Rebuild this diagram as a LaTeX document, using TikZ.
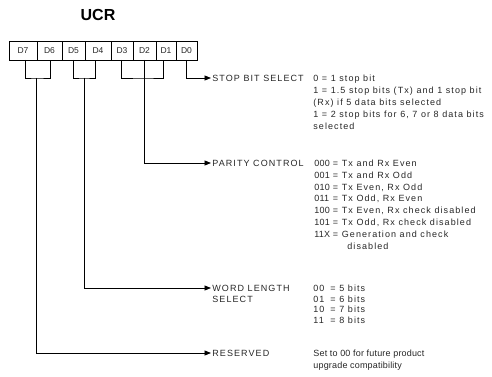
\documentclass[tikz,border=0pt]{standalone}
\usepackage{fontspec}
\setmainfont{Liberation Sans}
\newfontfamily\lblfont[LetterSpace=12]{Liberation Sans}
\newfontfamily\descfont[LetterSpace=12]{Liberation Sans}
\newfontfamily\resfont[LetterSpace=2]{Liberation Sans}
\usetikzlibrary{arrows.meta}
\newcommand\myrow[3]{\makebox[18.5pt][l]{\resfont #1}\makebox[9pt][l]{#2}#3}
\newcommand\mywl[3]{\makebox[17pt][l]{#1}\makebox[9pt][l]{#2}#3}
\begin{document}
\begin{tikzpicture}[x=1pt,y=-1pt,line width=0.8pt,
  cell/.style={draw,minimum height=19pt,inner sep=0pt,outer sep=0pt,
    text=black!85,font=\fontsize{8.5}{10}\selectfont},
  lbl/.style={anchor=west,inner sep=1pt,text=black!85,
    font=\lblfont\fontsize{9}{12}\selectfont},
  desc/.style={anchor=base west,inner sep=0pt,text=black!85,
    font=\descfont\fontsize{9}{12}\selectfont},
  arr/.style={-{Triangle[length=6.5pt,width=5pt]}}]
\useasboundingbox (0,0) rectangle (492,377);
% title
\node[font=\bfseries\fontsize{16}{16}\selectfont] (title) at (98,15) {UCR};
% register cells
\node[cell,minimum width=28pt] (d7) at (23,50.5) {D7};
\node[cell,minimum width=25pt] (d6) at (49.5,50.5) {D6};
\node[cell,minimum width=23pt] (d5) at (73.5,50.5) {D5};
\node[cell,minimum width=26pt] (d4) at (98,50.5) {D4};
\node[cell,minimum width=22pt] (d3) at (122,50.5) {D3};
\node[cell,minimum width=23pt] (d2) at (144.5,50.5) {D2};
\node[cell,minimum width=20pt] (d1) at (166,50.5) {D1};
\node[cell,minimum width=21pt] (d0) at (186.5,50.5) {D0};
% feet of the brackets
\coordinate (f7) at ([xshift=2.7pt]d7.south);
\coordinate (f6) at ([xshift=1.2pt]d6.south);
\coordinate (f5) at ([xshift=-0.2pt]d5.south);
\coordinate (f4) at ([xshift=-2.3pt]d4.south);
\coordinate (f3) at ([xshift=-0.3pt]d3.south);
\coordinate (f2) at ([xshift=-0.5pt]d2.south);
\coordinate (f1) at ([xshift=-3pt]d1.south);
\coordinate (f0) at ([xshift=-0.5pt]d0.south);
\coordinate (j76) at (36.7,78);
\coordinate (j54) at (84,78);
\coordinate (j2) at (144,78);
% labels
\node[lbl] (stop) at (211,78) {STOP BIT SELECT};
\node[lbl] (par) at (211,163) {PARITY CONTROL};
\node[lbl] (word) at (211,288) {WORD LENGTH};
\node[lbl] (wordb) at (211,299) {SELECT};
\node[lbl] (resv) at (211,353) {RESERVED};
% connectors
\draw (f7) |- (j76) -| (f6);
\draw (f5) |- (j54) -| (f4);
\draw (f3) |- (j2) -| (f1);
\draw[arr] (f0) |- (stop.west);
\draw[arr] (f2) |- (par.west);
\draw[arr] (j54) |- (word.west);
\draw[arr] (j76) |- (resv.west);
% descriptions
\node[desc] (stopd) at (313,81.2) {\begin{tabular}[t]{@{}l@{}}
0 = 1 stop bit\\
1 = 1.5 stop bits (Tx) and 1 stop bit\\
(Rx) if 5 data bits selected\\
1 = 2 stop bits for 6, 7 or 8 data bits\\
selected\end{tabular}};
\node[desc,font=\descfont\fontsize{9}{11.9}\selectfont] (pard) at (314,166.2) {\begin{tabular}[t]{@{}l@{}}
\myrow{000}{=}{Tx and Rx Even}\\
\myrow{001}{=}{Tx and Rx Odd}\\
\myrow{010}{=}{Tx Even, Rx Odd}\\
\myrow{011}{=}{Tx Odd, Rx Even}\\
\myrow{100}{=}{Tx Even, Rx check disabled}\\
\myrow{101}{=}{Tx Odd, Rx check disabled}\\
\myrow{11X}{=}{Generation and check}\\
\hspace{33pt}disabled\end{tabular}};
\node[desc,font=\descfont\fontsize{9}{10.8}\selectfont] (wordd) at (313,291.2) {\begin{tabular}[t]{@{}l@{}}
\mywl{00}{=}{5 bits}\\
\mywl{01}{=}{6 bits}\\
\mywl{10}{=}{7 bits}\\
\mywl{11}{=}{8 bits}\end{tabular}};
\node[desc,font=\resfont\fontsize{9}{12}\selectfont] (resd) at (313,356.2) {\begin{tabular}[t]{@{}l@{}}
Set to 00 for future product\\
upgrade compatibility\end{tabular}};
\end{tikzpicture}
\end{document}
